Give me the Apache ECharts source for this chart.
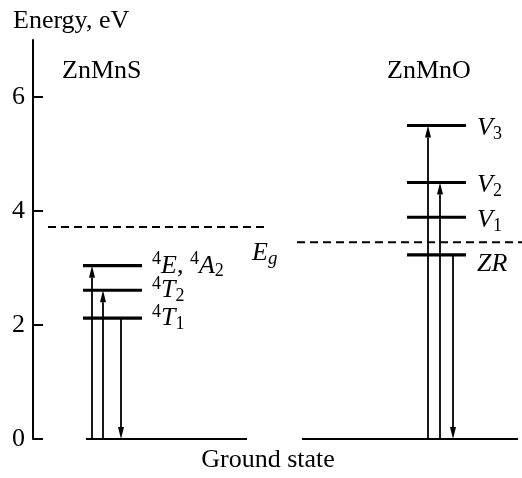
<!DOCTYPE html>
<html>
<head>
<meta charset="utf-8">
<script src="https://cdn.jsdelivr.net/npm/echarts@6/dist/echarts.min.js"></script>
<style>html,body{margin:0;padding:0;background:#fff}#c{width:522px;height:478px}</style>
</head>
<body>
<div id="c"></div>
<script>
// ---- data ----
const yTicks = [0, 2, 4, 6];
const groupNames = ['ZnMnS', 'ZnMnO'];
const levelsS = [3.04, 2.61, 2.12];
const levelNamesS = ['{s|4}{i|E}{n|, }{s|4}{i|A}{b|2}', '{s|4}{i|T}{b|2}', '{s|4}{i|T}{b|1}'];
const levelsO = [5.50, 4.50, 3.89, 3.23];
const levelNamesO = ['{i|V}{b|3}', '{i|V}{b|2}', '{i|V}{b|1}', '{i|ZR}'];
const gapS = 3.72;
const gapO = 3.45;
const gapLabel = '{i|E}{bi|g}';
const arrowsS = [[0, 3.04], [0, 2.61], [2.12, 0]];   // [from, to]
const arrowsO = [[0, 5.50], [0, 4.50], [3.23, 0]];
const groundE = 0;
const xLabel = 'Ground state';
const yLabel = 'Energy, eV';

// ---- layout (x in grid units) ----
const FONT = '"Liberation Serif", "Times New Roman", serif';
const FS = 26;
const layS = { levelX: [50, 109], arrowX: [59, 70, 88], groundX: [53, 214], labelX: 119, gapX: [15, 235], dy: [0, 0, 0] };
const layO = { levelX: [374, 433], arrowX: [395, 407, 420], groundX: [269, 485], labelX: 444, gapX: [264, 489], dy: [3, 3, 3, 9] };
const gapLabelX = 219;

const rich = {
  i: { fontFamily: FONT, fontSize: FS, fontStyle: 'italic', lineHeight: 30, verticalAlign: 'middle', fill: '#000' },
  n: { fontFamily: FONT, fontSize: FS, lineHeight: 30, verticalAlign: 'middle', fill: '#000' },
  s: { fontFamily: FONT, fontSize: 18, lineHeight: 18, verticalAlign: 'top', fill: '#000' },
  b: { fontFamily: FONT, fontSize: 18, lineHeight: 18, verticalAlign: 'bottom', fill: '#000' },
  bi: { fontFamily: FONT, fontSize: 19, fontStyle: 'italic', lineHeight: 18, verticalAlign: 'bottom', fill: '#000' }
};

function levelSeries(energies, names, lay) {
  return {
    type: 'custom', silent: true, animation: false,
    data: energies.map(e => [lay.levelX[0], e]),
    encode: { x: 0, y: 1 },
    renderItem: function (params, api) {
      const e = api.value(1);
      const p1 = api.coord([lay.levelX[0], e]);
      const p2 = api.coord([lay.levelX[1], e]);
      const lp = api.coord([lay.labelX, e]);
      return {
        type: 'group',
        children: [
          { type: 'line', shape: { x1: p1[0], y1: p1[1], x2: p2[0], y2: p2[1] }, style: { stroke: '#000', lineWidth: 3.2 } },
          { type: 'text', x: lp[0], y: lp[1] + lay.dy[params.dataIndex],
            style: { text: names[params.dataIndex], rich: rich, align: 'left', verticalAlign: 'middle' } }
        ]
      };
    }
  };
}

function arrowSeries(arrows, lay) {
  return {
    type: 'custom', silent: true, animation: false,
    data: arrows.map((a, i) => [lay.arrowX[i], a[0], a[1]]),
    encode: { x: 0, y: [1, 2] },
    renderItem: function (params, api) {
      const x = api.value(0);
      const pa = api.coord([x, api.value(1)]);
      const pb = api.coord([x, api.value(2)]);
      const dir = pb[1] < pa[1] ? 1 : -1; // 1 = upward
      const L = 12, W = 3;
      const tip = [pb[0], pb[1]];
      const base = pb[1] + dir * L;
      return {
        type: 'group',
        children: [
          { type: 'line', shape: { x1: pa[0], y1: pa[1], x2: pb[0], y2: base }, style: { stroke: '#000', lineWidth: 1.8 } },
          { type: 'polygon', shape: { points: [tip, [tip[0] - W, base], [tip[0] + W, base]] }, style: { fill: '#000' } }
        ]
      };
    }
  };
}

function hLineSeries(items, width, dash) {
  return {
    type: 'custom', silent: true, animation: false,
    data: items,
    encode: { x: [0, 1], y: 2 },
    renderItem: function (params, api) {
      const e = api.value(2);
      const p1 = api.coord([api.value(0), e]);
      const p2 = api.coord([api.value(1), e]);
      return { type: 'line', shape: { x1: p1[0], y1: p1[1], x2: p2[0], y2: p2[1] },
        style: { stroke: '#000', lineWidth: width, lineDash: dash } };
    }
  };
}

const gapLabelSeries = {
  type: 'custom', silent: true, animation: false,
  data: [[gapLabelX, gapO]],
  encode: { x: 0, y: 1 },
  renderItem: function (params, api) {
    const p = api.coord([api.value(0), api.value(1)]);
    return { type: 'text', x: p[0], y: p[1] + 11, style: { text: gapLabel, rich: rich, align: 'left', verticalAlign: 'middle' } };
  }
};

const chart = echarts.init(document.getElementById('c'));
chart.setOption({
  animation: false,
  grid: { left: 33, top: 40, width: 489, height: 402 },
  xAxis: {
    type: 'value', min: 0, max: 489,
    axisLine: { show: false }, axisTick: { show: false }, axisLabel: { show: false }, splitLine: { show: false },
    name: xLabel, nameLocation: 'middle', nameGap: 8,
    nameTextStyle: { fontFamily: FONT, fontSize: FS, color: '#000', verticalAlign: 'top', padding: [0, 19, 0, 0] }
  },
  yAxis: {
    type: 'value', min: 0, max: 7, interval: 1,
    axisLine: { show: true, lineStyle: { color: '#000', width: 2 } },
    axisTick: { show: true, inside: true, length: 10, lineStyle: { color: '#000', width: 2 }, customValues: yTicks },
    axisLabel: { fontFamily: FONT, fontSize: FS, color: '#000', margin: 8, customValues: yTicks },
    splitLine: { show: false }
  },
  graphic: [
    { type: 'text', left: 13, top: 8, style: { text: yLabel, font: FS + 'px ' + FONT, fill: '#000' } },
    { type: 'text', left: 62, top: 58, style: { text: groupNames[0], font: FS + 'px ' + FONT, fill: '#000' } },
    { type: 'text', left: 387, top: 58, style: { text: groupNames[1], font: FS + 'px ' + FONT, fill: '#000' } }
  ],
  series: [
    hLineSeries([[layS.gapX[0], layS.gapX[1], gapS], [layO.gapX[0], layO.gapX[1], gapO]], 2, [8, 5]),
    hLineSeries([[layS.groundX[0], layS.groundX[1], groundE], [layO.groundX[0], layO.groundX[1], groundE]], 2, null),
    levelSeries(levelsS, levelNamesS, layS),
    levelSeries(levelsO, levelNamesO, layO),
    arrowSeries(arrowsS, layS),
    arrowSeries(arrowsO, layO),
    gapLabelSeries
  ]
});
</script>
</body>
</html>
